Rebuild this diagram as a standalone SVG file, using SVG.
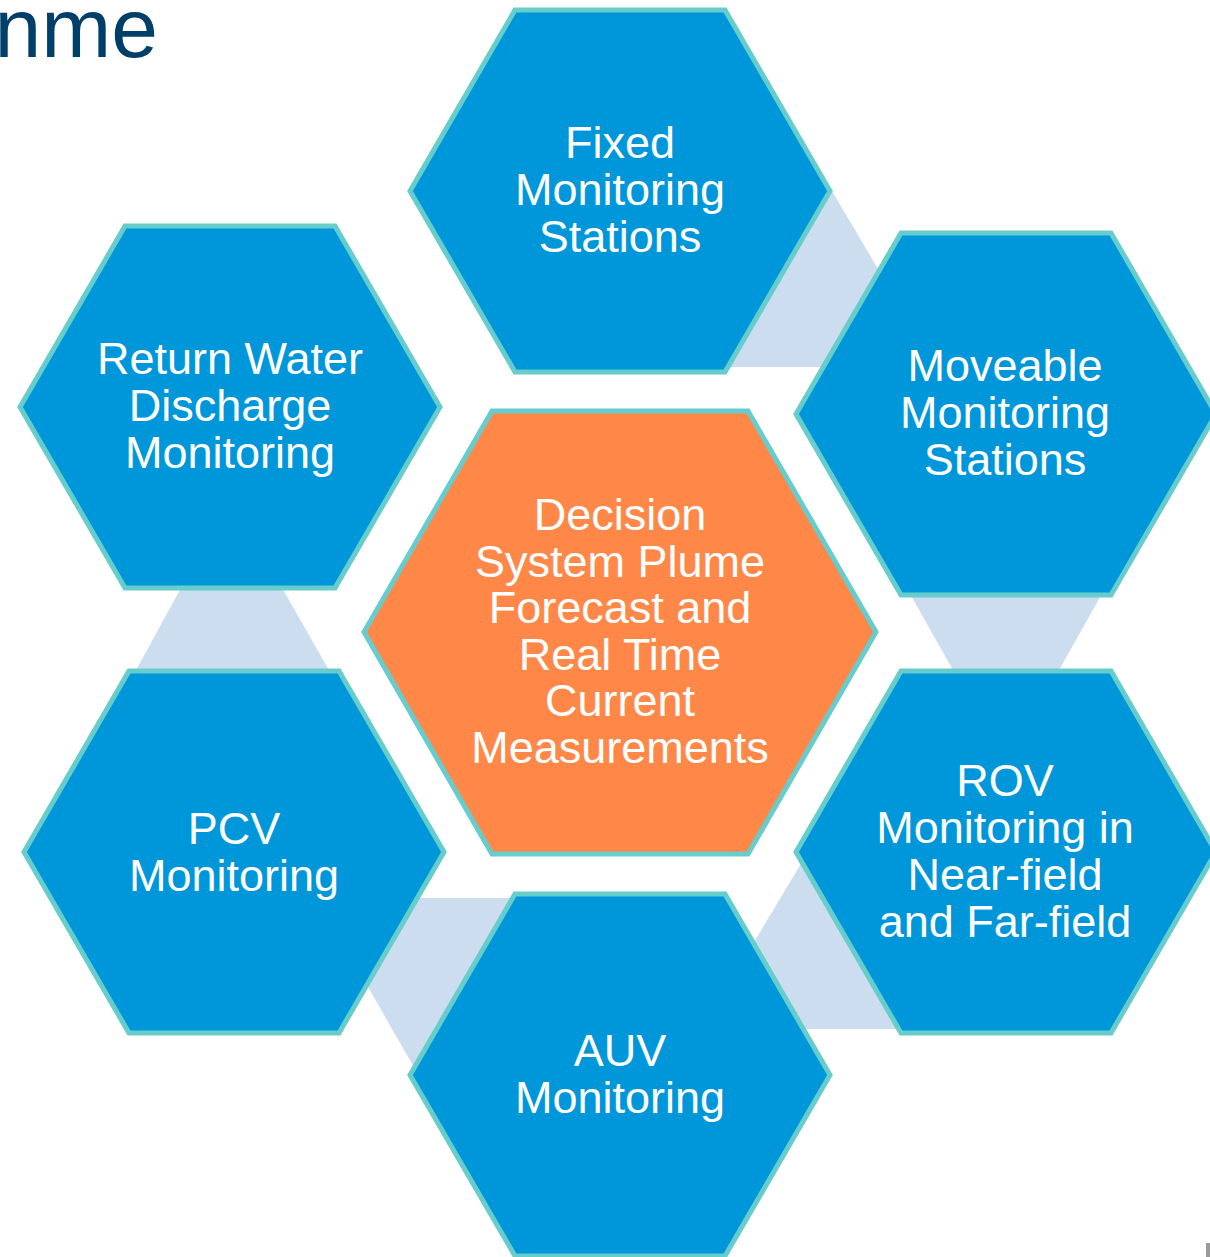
<svg xmlns="http://www.w3.org/2000/svg" width="1210" height="1257" viewBox="0 0 1210 1257">
  <style>
    .hex { fill: #0097DA; stroke: #66CCCC; stroke-width: 5; stroke-linejoin: miter; }
    .hub { fill: #FF8849; stroke: #66CCCC; stroke-width: 5; stroke-linejoin: miter; }
    .link { fill: #CCDDF0; stroke: none; }
    .label { font-family: "Liberation Sans", Arial, sans-serif; font-size: 45px; fill: #FFFFFF; text-anchor: middle; }
    .title { font-family: "Liberation Sans", Arial, sans-serif; font-size: 84px; fill: #003F69; text-anchor: end; }
  </style>
  <rect x="0" y="0" width="1210" height="1257" fill="#FFFFFF"/>

  <!-- heading fragment -->
  <text class="title" x="158" y="57">nme</text>

  <!-- light bands linking neighbouring hexagons -->
  <g id="connectors">
    <polygon class="link" points="805,191 832,191 936,367 715,367"/>
    <polygon class="link" points="909,592 1103,592 1058,672 954,672"/>
    <polygon class="link" points="808,852 822,852 915,1029 702,1029"/>
    <polygon class="link" points="317,898 530,898 430,1076 419,1076"/>
    <polygon class="link" points="182,586 281,586 330,672 135,672"/>
  </g>

  <g id="fixed-stations">
    <polygon class="hex" points="410,191 515,10 725,10 830,191 725,372 515,372"/>
    <text class="label" x="620" y="158">Fixed</text>
    <text class="label" x="620" y="205">Monitoring</text>
    <text class="label" x="620" y="252">Stations</text>
  </g>

  <g id="return-water">
    <polygon class="hex" points="20,407 125,226 335,226 440,407 335,588 125,588"/>
    <text class="label" x="230" y="374">Return Water</text>
    <text class="label" x="230" y="421">Discharge</text>
    <text class="label" x="230" y="468">Monitoring</text>
  </g>

  <g id="moveable-stations">
    <polygon class="hex" points="796,414 901,233 1111,233 1216,414 1111,595 901,595"/>
    <text class="label" x="1005" y="381">Moveable</text>
    <text class="label" x="1005" y="428">Monitoring</text>
    <text class="label" x="1005" y="475">Stations</text>
  </g>

  <g id="decision-system">
    <polygon class="hub" points="364,632 492,411 748,411 876,632 748,854 492,854"/>
    <text class="label" x="620" y="530">Decision</text>
    <text class="label" x="620" y="577">System Plume</text>
    <text class="label" x="620" y="623">Forecast and</text>
    <text class="label" x="620" y="670">Real Time</text>
    <text class="label" x="620" y="716">Current</text>
    <text class="label" x="620" y="763">Measurements</text>
  </g>

  <g id="pcv-monitoring">
    <polygon class="hex" points="24,852 129,671 339,671 444,852 339,1033 129,1033"/>
    <text class="label" x="234" y="844">PCV</text>
    <text class="label" x="234" y="891">Monitoring</text>
  </g>

  <g id="rov-monitoring">
    <polygon class="hex" points="796,852 901,671 1111,671 1216,852 1111,1033 901,1033"/>
    <text class="label" x="1005" y="796">ROV</text>
    <text class="label" x="1005" y="843">Monitoring in</text>
    <text class="label" x="1005" y="890">Near-field</text>
    <text class="label" x="1005" y="937">and Far-field</text>
  </g>

  <g id="auv-monitoring">
    <polygon class="hex" points="410,1075 515,894 725,894 830,1075 725,1256 515,1256"/>
    <text class="label" x="620" y="1066">AUV</text>
    <text class="label" x="620" y="1113">Monitoring</text>
  </g>

  <!-- page edge mark -->
  <rect x="1206" y="1243" width="4" height="14" fill="#9A9A9A"/>
</svg>
